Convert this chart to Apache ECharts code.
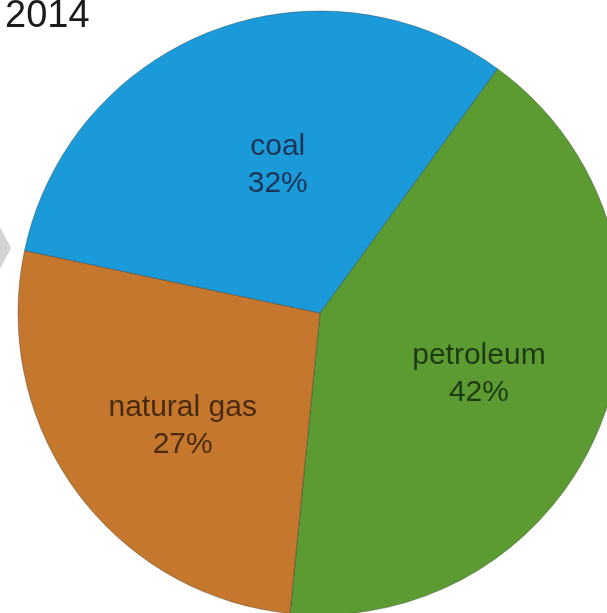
<!DOCTYPE html>
<html>
<head>
<meta charset="utf-8">
<title>2014</title>
<script src="https://cdn.jsdelivr.net/npm/echarts@6/dist/echarts.min.js"></script>
<style>
  html, body { margin: 0; padding: 0; background: #ffffff; }
  #chart { width: 607px; height: 613px; }
</style>
</head>
<body>
<div id="chart"></div>
<script>
// Energy sources, share of total (%)
const categories = ['petroleum', 'natural gas', 'coal'];
const shares = [42, 27, 32];
const yearLabel = '2014';

// Slice fills and label text colours, in category order
const fills = ['#5b9b31', '#c5772d', '#1b9ad9'];
const textColors = ['#1d3a12', '#4a2a0e', '#1c3556'];
// Small nudges of each label from its default inside spot
const labelNudges = [[15, 6], [-13, 22], [13, -4]];

const chart = echarts.init(document.getElementById('chart'), null, { renderer: 'canvas' });

const data = categories.map((name, i) => ({
  name: name,
  value: shares[i],
  itemStyle: { color: fills[i] },
  label: { color: textColors[i], offset: labelNudges[i] }
}));

chart.setOption({
  animation: false,
  backgroundColor: '#ffffff',
  title: {
    text: yearLabel,
    left: 0,
    top: -7,
    textStyle: {
      fontFamily: 'Liberation Sans, Arial, sans-serif',
      fontSize: 38,
      fontWeight: 'normal',
      color: '#1a1a1a'
    }
  },
  graphic: [{
    type: 'polygon',
    shape: { points: [[0, 227], [11, 248], [0, 269]] },
    style: { fill: '#d4d4d4' },
    silent: true
  }],
  series: [{
    type: 'pie',
    center: [320, 313],
    radius: 302,
    startAngle: 54,
    clockwise: true,
    avoidLabelOverlap: false,
    data: data,
    itemStyle: {
      borderColor: 'rgba(40,40,40,0.35)',
      borderWidth: 1
    },
    label: {
      show: true,
      position: 'inside',
      formatter: p => p.name + '\n' + p.value + '%',
      fontFamily: 'Liberation Sans, Arial, sans-serif',
      fontSize: 30,
      lineHeight: 37,
      align: 'center'
    },
    labelLine: { show: false },
    emphasis: { disabled: true }
  }]
});
</script>
</body>
</html>
